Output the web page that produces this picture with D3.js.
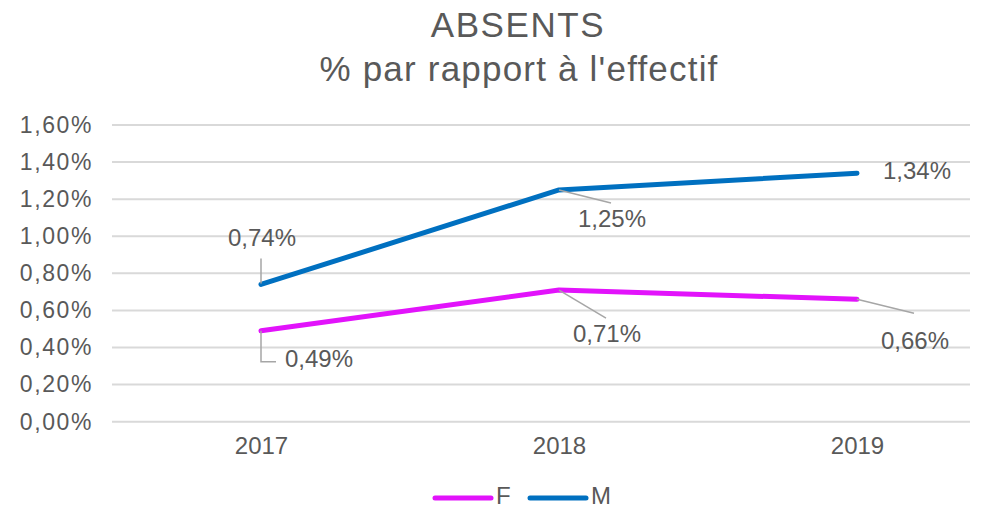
<!DOCTYPE html>
<html>
<head>
<meta charset="utf-8">
<script src="https://cdn.jsdelivr.net/npm/d3@7/dist/d3.min.js"></script>
<style>
  body { margin: 0; background: #fff; }
  text { font-family: "Liberation Sans", Arial, sans-serif; fill: #595959; }
</style>
</head>
<body>
<script>
// Données
const years = ["2017", "2018", "2019"];
const seriesF = [0.49, 0.71, 0.66];
const seriesM = [0.74, 1.25, 1.34];
const yTicks = [0, 0.2, 0.4, 0.6, 0.8, 1.0, 1.2, 1.4, 1.6];

const width = 998, height = 508;
const plot = { left: 112, right: 970, top: 125, bottom: 421.7 };

const svg = d3.select("body").append("svg")
    .attr("width", width)
    .attr("height", height);

// Titre
svg.append("text")
    .attr("x", 518).attr("y", 37)
    .attr("text-anchor", "middle")
    .attr("font-size", "35px")
    .attr("letter-spacing", "1.6px")
    .text("ABSENTS");
svg.append("text")
    .attr("x", 519).attr("y", 81)
    .attr("text-anchor", "middle")
    .attr("font-size", "35px")
    .attr("letter-spacing", "1.2px")
    .text("% par rapport à l'effectif");

// Échelles
const x = d3.scalePoint()
    .domain(years)
    .range([261, 857]);

const y = d3.scaleLinear()
    .domain([0, 1.6])
    .range([plot.bottom, plot.top]);

const fmt = v => d3.format(".2f")(v).replace(".", ",") + "%";

// Grille
svg.append("g")
    .selectAll("line")
    .data(yTicks)
    .enter().append("line")
    .attr("x1", plot.left)
    .attr("x2", plot.right)
    .attr("y1", d => y(d))
    .attr("y2", d => y(d))
    .attr("stroke", "#d9d9d9")
    .attr("stroke-width", 2);

// Axe Y
const yAxis = svg.append("g")
    .attr("transform", `translate(${plot.left - 16},0)`)
    .call(d3.axisLeft(y).tickValues(yTicks).tickFormat(fmt).tickSize(0));
yAxis.select(".domain").remove();
yAxis.selectAll("text")
    .attr("font-size", "23px")
    .attr("letter-spacing", "1.6px")
    .attr("font-family", "Liberation Sans, Arial, sans-serif")
    .attr("fill", "#595959");

// Axe X
const xAxis = svg.append("g")
    .attr("transform", `translate(0,${plot.bottom})`)
    .call(d3.axisBottom(x).tickSize(0));
xAxis.select(".domain").remove();
xAxis.selectAll("text")
    .attr("font-size", "24px")
    .attr("font-family", "Liberation Sans, Arial, sans-serif")
    .attr("fill", "#595959")
    .attr("y", 32)
    .attr("dy", 0);

// Séries
const series = [
    { name: "F", values: seriesF, color: "#e213fb" },
    { name: "M", values: seriesM, color: "#0070c0" }
];

const line = d3.line()
    .x((d, i) => x(years[i]))
    .y(d => y(d));

svg.selectAll(".serie")
    .data(series)
    .enter().append("path")
    .attr("class", "serie")
    .attr("d", d => line(d.values))
    .attr("fill", "none")
    .attr("stroke", d => d.color)
    .attr("stroke-width", 5)
    .attr("stroke-linecap", "round")
    .attr("stroke-linejoin", "round");

// Étiquettes de données (décalages et lignes de repère)
const labelStyle = {
    F: [
        { dx: 24, dy: 36, anchor: "start", leader: [[0, 0], [0, 31], [15, 31]] },
        { dx: 48, dy: 52, anchor: "middle", leader: [[0, 0], [47, 28]] },
        { dx: 58, dy: 50, anchor: "middle", leader: [[0, 0], [57, 14]] }
    ],
    M: [
        { dx: 1, dy: -38, anchor: "middle", leader: [[0, -26], [0, -1]] },
        { dx: 53, dy: 37, anchor: "middle", leader: [[0, 0], [52, 13]] },
        { dx: 60, dy: 6, anchor: "middle", leader: null }
    ]
};

series.forEach(s => {
    s.values.forEach((v, i) => {
        const px = x(years[i]), py = y(v);
        const st = labelStyle[s.name][i];
        if (st.leader) {
            svg.append("path")
                .attr("d", d3.line()(st.leader.map(p => [px + p[0], py + p[1]])))
                .attr("fill", "none")
                .attr("stroke", "#a6a6a6")
                .attr("stroke-width", 1.5);
        }
        svg.append("text")
            .attr("x", px + st.dx)
            .attr("y", py + st.dy)
            .attr("text-anchor", st.anchor)
            .attr("font-size", "24px")
            .attr("fill", "#404040")
            .text(fmt(v));
    });
});

// Légende
const legend = svg.append("g").attr("transform", "translate(433,498)");
const legendItems = legend.selectAll("g")
    .data(series)
    .enter().append("g")
    .attr("transform", (d, i) => `translate(${i * 95},0)`);
legendItems.append("line")
    .attr("x1", 2).attr("x2", 58)
    .attr("y1", 0).attr("y2", 0)
    .attr("stroke", d => d.color)
    .attr("stroke-width", 5)
    .attr("stroke-linecap", "round");
legendItems.append("text")
    .attr("x", 63).attr("y", 6)
    .attr("font-size", "24px")
    .text(d => d.name);
</script>
</body>
</html>
